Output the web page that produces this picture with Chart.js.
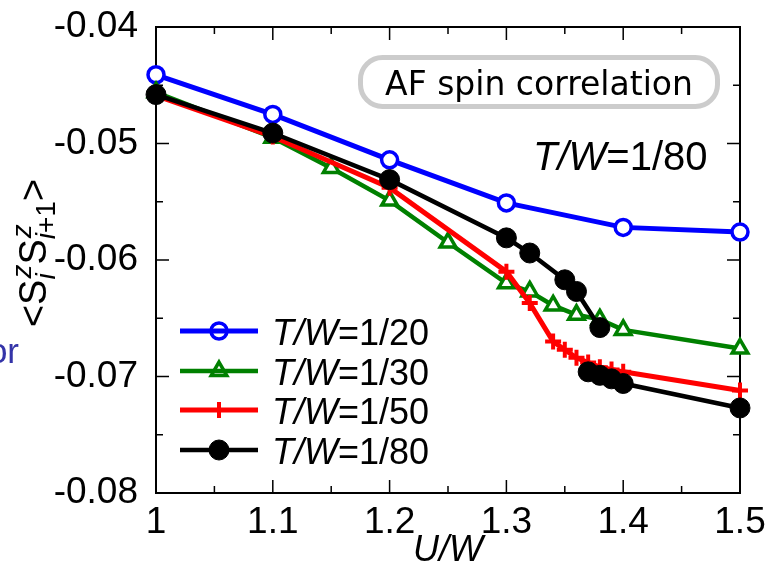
<!DOCTYPE html>
<html>
<head>
<meta charset="utf-8">
<script src="https://cdn.jsdelivr.net/npm/chart.js@4.4.1/dist/chart.umd.min.js"></script>
<style>
  html, body { margin: 0; padding: 0; background: #fff; }
  #wrap { position: relative; width: 769px; height: 570px; }
</style>
</head>
<body>
<div id="wrap"><canvas id="chart"></canvas></div>
<script>
// <S^z_i S^z_i+1> against U/W for four temperatures
const uwT20 = [1.0, 1.1, 1.2, 1.3, 1.4, 1.5];
const szT20 = [-0.0441, -0.0475, -0.0514, -0.0551, -0.0572, -0.0576];

const uwT30 = [1.0, 1.1, 1.15, 1.2, 1.25, 1.3, 1.32, 1.34, 1.36, 1.38, 1.4, 1.5];
const szT30 = [-0.0456, -0.0495, -0.0521, -0.0549, -0.0585, -0.0620, -0.0627, -0.0639, -0.0647, -0.0651, -0.0660, -0.0676];

const uwT50 = [1.0, 1.1, 1.2, 1.3, 1.32, 1.34, 1.35, 1.36, 1.37, 1.38, 1.39, 1.4, 1.5];
const szT50 = [-0.0459, -0.0494, -0.0538, -0.0610, -0.0637, -0.0670, -0.0677, -0.0684, -0.0688, -0.0692, -0.0694, -0.0696, -0.0712];

// two branches at T/W=1/80, split by a null
const uwT80 = [1.0, 1.1, 1.2, 1.3, 1.32, 1.35, 1.36, 1.38, 1.38, 1.37, 1.38, 1.39, 1.4, 1.5];
const szT80 = [-0.0458, -0.0491, -0.0531, -0.0581, -0.0594, -0.0617, -0.0627, -0.0658, null, -0.0696, -0.0699, -0.0702, -0.0706, -0.0727];

const seriesNames = ['1/20', '1/30', '1/50', '1/80'];
const xTicks = [1, 1.1, 1.2, 1.3, 1.4, 1.5];
const xTickLabels = ['1', '1.1', '1.2', '1.3', '1.4', '1.5'];
const yTicks = [-0.08, -0.07, -0.06, -0.05, -0.04];
const yTickLabels = ['-0.08', '-0.07', '-0.06', '-0.05', '-0.04'];

const FONT = '"Liberation Sans", Arial, sans-serif';

const pts = (xs, ys) => xs.map((x, i) => ({ x: x, y: ys[i] }));

// writes pieces of text one after another, each with its own font
function drawRuns(ctx, runs, x, y) {
    let cx = x;
    runs.forEach(r => {
        ctx.font = r[1];
        ctx.fillText(r[0], cx, y + (r[2] || 0));
        cx += ctx.measureText(r[0]).width;
    });
    return cx;
}

// box outline plus inward ticks on all four sides
const frameTicks = {
    id: 'frameTicks',
    beforeDatasetsDraw(chart) {
        const { ctx, chartArea: a, scales: { x, y } } = chart;
        ctx.save();
        ctx.strokeStyle = '#000';
        ctx.lineWidth = 2;
        ctx.strokeRect(a.left, a.top, a.right - a.left, a.bottom - a.top);
        ctx.lineWidth = 1.5;
        ctx.beginPath();
        const x0 = xTicks[0], x1 = xTicks[xTicks.length - 1];
        const nx = Math.round((x1 - x0) / 0.05);
        for (let i = 0; i <= nx; i++) {
            const px = x.getPixelForValue(x0 + i * 0.05);
            const len = i % 2 === 0 ? 13 : 7;
            ctx.moveTo(px, a.bottom); ctx.lineTo(px, a.bottom - len);
            ctx.moveTo(px, a.top); ctx.lineTo(px, a.top + len);
        }
        const y0 = yTicks[0], y1 = yTicks[yTicks.length - 1];
        const ny = Math.round((y1 - y0) / 0.005);
        for (let i = 0; i <= ny; i++) {
            const py = y.getPixelForValue(y0 + i * 0.005);
            const len = i % 2 === 0 ? 13 : 7;
            ctx.moveTo(a.left, py); ctx.lineTo(a.left + len, py);
            ctx.moveTo(a.right, py); ctx.lineTo(a.right - len, py);
        }
        ctx.stroke();
        ctx.restore();
    }
};

// legend, labels and the rotated y title
const extras = {
    id: 'extras',
    afterDraw(chart) {
        const ctx = chart.ctx;
        const H = Chart.helpers;

        // legend
        const rows = [331, 371, 410, 450];
        chart.data.datasets.forEach((ds, i) => {
            const yy = rows[i];
            ctx.save();
            ctx.strokeStyle = ds.borderColor;
            ctx.lineWidth = ds.borderWidth;
            ctx.beginPath();
            ctx.moveTo(180, yy);
            ctx.lineTo(258, yy);
            ctx.stroke();
            ctx.lineWidth = ds.pointBorderWidth;
            ctx.strokeStyle = ds.pointBorderColor;
            ctx.fillStyle = ds.pointBackgroundColor === '#fff' ? 'rgba(0,0,0,0)' : ds.pointBackgroundColor;
            H.drawPoint(ctx, { pointStyle: ds.pointStyle, radius: ds.pointRadius, borderWidth: ds.pointBorderWidth, rotation: 0 }, 219, yy);
            ctx.fillStyle = '#000';
            ctx.textBaseline = 'alphabetic';
            ctx.textAlign = 'left';
            drawRuns(ctx, [['T/W', 'italic 36px ' + FONT], ['=' + seriesNames[i], '36px ' + FONT]], 272, yy + 14);
            ctx.restore();
        });

        ctx.save();
        // boxed caption
        ctx.strokeStyle = '#cccccc';
        ctx.lineWidth = 5;
        ctx.beginPath();
        if (ctx.roundRect) ctx.roundRect(360.5, 57.5, 357, 49, 22);
        else ctx.rect(360.5, 57.5, 357, 49);
        ctx.stroke();
        ctx.fillStyle = '#000';
        ctx.font = '33px "DejaVu Sans", sans-serif';
        ctx.textAlign = 'center';
        ctx.textBaseline = 'alphabetic';
        ctx.fillText('AF spin correlation', 539, 95);

        // temperature note
        ctx.textAlign = 'left';
        drawRuns(ctx, [['T/W', 'italic 40px ' + FONT], ['=1/80', '40px ' + FONT]], 533, 170);

        // leftover word at the left edge
        ctx.fillStyle = '#3434a8';
        ctx.font = '35px ' + FONT;
        ctx.textAlign = 'right';
        ctx.fillText('or', 19, 363);
        ctx.restore();

        // y title  <S^z_i S^z_i+1>
        ctx.save();
        ctx.fillStyle = '#000';
        ctx.textAlign = 'left';
        ctx.textBaseline = 'alphabetic';
        const big = '38px ' + FONT;
        const smI = 'italic 28px ' + FONT;
        const sm = '28px ' + FONT;
        ctx.translate(46, 253);
        ctx.rotate(-Math.PI / 2);
        let start = 0;
        const parts = (dry) => {
            let cx = dry ? 0 : start;
            const step = (t, f) => {
                ctx.font = f;
                if (!dry) ctx.fillText(t, cx, 0);
                cx += ctx.measureText(t).width;
            };
            const supSub = (sub) => {
                const base = cx;
                ctx.font = smI;
                const wz = ctx.measureText('z').width;
                if (!dry) ctx.fillText('z', base + 1, -15);
                let w = 0;
                sub.forEach(s => {
                    ctx.font = s[1];
                    if (!dry) ctx.fillText(s[0], base + w, 9);
                    w += ctx.measureText(s[0]).width;
                });
                cx = base + Math.max(wz + 1, w);
            };
            step('<', big);
            step('S', big);
            supSub([['i', smI]]);
            step('S', big);
            supSub([['i', smI], ['+1', sm]]);
            step('>', big);
            return cx;
        };
        const total = parts(true);
        start = -total / 2;
        parts(false);
        ctx.restore();
    }
};

const common = { fill: false, tension: 0, clip: false, spanGaps: false };

new Chart(document.getElementById('chart'), {
    type: 'line',
    data: {
        datasets: [
            { ...common, label: seriesNames[0], data: pts(uwT20, szT20), borderColor: '#0000ff', borderWidth: 5,
              pointStyle: 'circle', pointRadius: 8, pointBorderWidth: 3.5, pointBorderColor: '#0000ff', pointBackgroundColor: '#fff', order: 4 },
            { ...common, label: seriesNames[1], data: pts(uwT30, szT30), borderColor: '#008000', borderWidth: 4.5,
              pointStyle: 'triangle', pointRadius: 9, pointBorderWidth: 3.5, pointBorderColor: '#008000', pointBackgroundColor: '#fff', order: 3 },
            { ...common, label: seriesNames[2], data: pts(uwT50, szT50), borderColor: '#ff0000', borderWidth: 5,
              pointStyle: 'cross', pointRadius: 8, pointBorderWidth: 4, pointBorderColor: '#ff0000', pointBackgroundColor: '#ff0000', order: 2 },
            { ...common, label: seriesNames[3], data: pts(uwT80, szT80), borderColor: '#000000', borderWidth: 4.5,
              pointStyle: 'circle', pointRadius: 10, pointBorderWidth: 1, pointBorderColor: '#000000', pointBackgroundColor: '#000000', order: 1 }
        ]
    },
    options: {
        responsive: true,
        maintainAspectRatio: false,
        animation: false,
        events: [],
        layout: { padding: { top: 27, right: 29, left: 0, bottom: 0 } },
        plugins: { legend: { display: false }, tooltip: { enabled: false } },
        scales: {
            x: {
                type: 'linear',
                min: xTicks[0],
                max: xTicks[xTicks.length - 1],
                grid: { display: false },
                border: { display: false },
                afterBuildTicks: s => { s.ticks = xTicks.map(v => ({ value: v })); },
                afterFit: s => { s.height = 77; },
                ticks: {
                    color: '#000',
                    padding: 0,
                    maxRotation: 0,
                    autoSkip: false,
                    font: { family: FONT, size: 37 },
                    callback: (v, i) => xTickLabels[i]
                },
                title: {
                    display: true,
                    text: 'U/W',
                    color: '#000',
                    padding: { top: 0, bottom: 0 },
                    font: { family: FONT, size: 36, style: 'italic', lineHeight: 1.05 }
                }
            },
            y: {
                type: 'linear',
                min: yTicks[0],
                max: yTicks[yTicks.length - 1],
                // invisible tick marks only to push the labels away from the axis
                grid: { display: true, drawOnChartArea: false, drawTicks: true, tickLength: 18, color: 'rgba(0,0,0,0)' },
                border: { display: false },
                afterBuildTicks: s => { s.ticks = yTicks.map(v => ({ value: v })); },
                afterFit: s => { s.width = 156; },
                ticks: {
                    color: '#000',
                    padding: 0,
                    autoSkip: false,
                    font: { family: FONT, size: 37 },
                    callback: (v, i) => yTickLabels[i]
                }
            }
        }
    },
    plugins: [frameTicks, extras]
});
</script>
</body>
</html>
